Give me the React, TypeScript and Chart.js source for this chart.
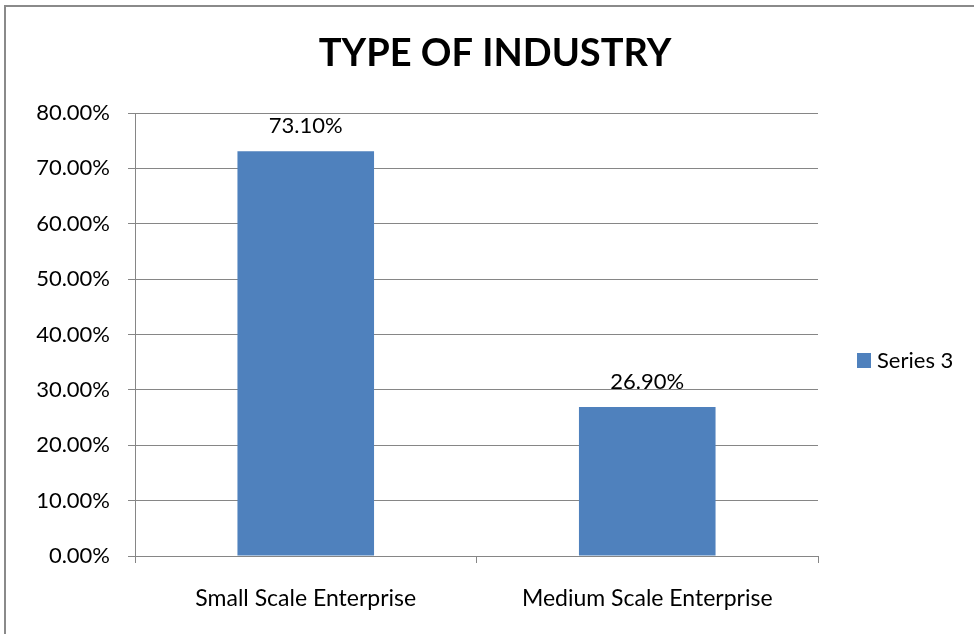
import { useEffect, useRef } from "react";
import { Chart, registerables } from "chart.js";
Chart.register(...registerables);

const chartTitle = "TYPE OF INDUSTRY";
const categories = ["Small Scale Enterprise", "Medium Scale Enterprise"];
const seriesName = "Series 3";
const values = [0.731, 0.269];
const yMin = 0;
const yMax = 0.8;
const yStep = 0.1;

const FONT = "Lato, 'Liberation Sans', sans-serif";
const BLUE = "#4F81BD";
const GRID = "#868686";
const fmt = (v: number) => (v * 100).toFixed(2) + "%";

export default function App() {
  const ref = useRef<HTMLCanvasElement>(null);
  useEffect(() => {
    if (!ref.current) return;
    const deco = {
      id: "deco",
      beforeDraw(chart: any) {
        const ctx = chart.ctx;
        ctx.save();
        ctx.fillStyle = "#fff";
        ctx.fillRect(0, 0, chart.width, chart.height);
        ctx.strokeStyle = "#8a8a8a";
        ctx.lineWidth = 2;
        ctx.beginPath();
        ctx.moveTo(5, chart.height + 5);
        ctx.lineTo(5, 6);
        ctx.lineTo(chart.width + 5, 6);
        ctx.stroke();
        ctx.restore();
      },
      afterDraw(chart: any) {
        const ctx = chart.ctx;
        ctx.save();
        // title
        ctx.fillStyle = "#000";
        ctx.font = `bold 38px ${FONT}`;
        ctx.textAlign = "center";
        ctx.textBaseline = "middle";
        ctx.fillText(chartTitle, 495, 54);
        // data labels
        ctx.font = `22px ${FONT}`;
        ctx.textBaseline = "alphabetic";
        const meta = chart.getDatasetMeta(0);
        meta.data.forEach((el: any, i: number) => {
          ctx.fillText(fmt(values[i]), el.x, el.y - 18);
        });
        // legend
        const ds = chart.data.datasets[0];
        ctx.fillStyle = ds.backgroundColor;
        ctx.fillRect(857, 353, 14, 15);
        ctx.fillStyle = "#000";
        ctx.textAlign = "left";
        ctx.textBaseline = "middle";
        ctx.fillText(ds.label, 877, 361);
        ctx.restore();
      },
    };
    const chart = new Chart(ref.current, {
      type: "bar",
      data: {
        labels: categories,
        datasets: [
          {
            label: seriesName,
            data: values,
            backgroundColor: BLUE,
            barPercentage: 0.4,
            categoryPercentage: 1,
          },
        ],
      },
      options: {
        animation: false,
        responsive: false,
        maintainAspectRatio: false,
        layout: { padding: { top: 113, right: 156, bottom: 0, left: 0 } },
        plugins: {
          legend: { display: false },
          title: { display: false },
          tooltip: { enabled: false },
        },
        scales: {
          x: {
            grid: { offset: true, drawOnChartArea: false, color: GRID, tickLength: 7 },
            border: { color: GRID },
            ticks: { font: { family: FONT, size: 23 }, color: "#000", padding: 22 },
            afterFit: (s: any) => {
              s.height = 78;
            },
          },
          y: {
            min: yMin,
            max: yMax,
            ticks: {
              stepSize: yStep,
              callback: (v: any) => fmt(Number(v)),
              font: { family: FONT, size: 22 },
              color: "#000",
              padding: 18,
            },
            grid: { color: GRID, tickLength: 7 },
            border: { color: GRID },
            afterFit: (s: any) => {
              s.width = 135;
            },
          },
        },
      },
      plugins: [deco],
    } as any);
    return () => chart.destroy();
  }, []);
  return (
    <div style={{ position: "fixed", left: 0, top: 0, width: 974, height: 634, background: "#fff" }}>
      <canvas ref={ref} width={974} height={634} style={{ display: "block", width: 974, height: 634 }} />
    </div>
  );
}
